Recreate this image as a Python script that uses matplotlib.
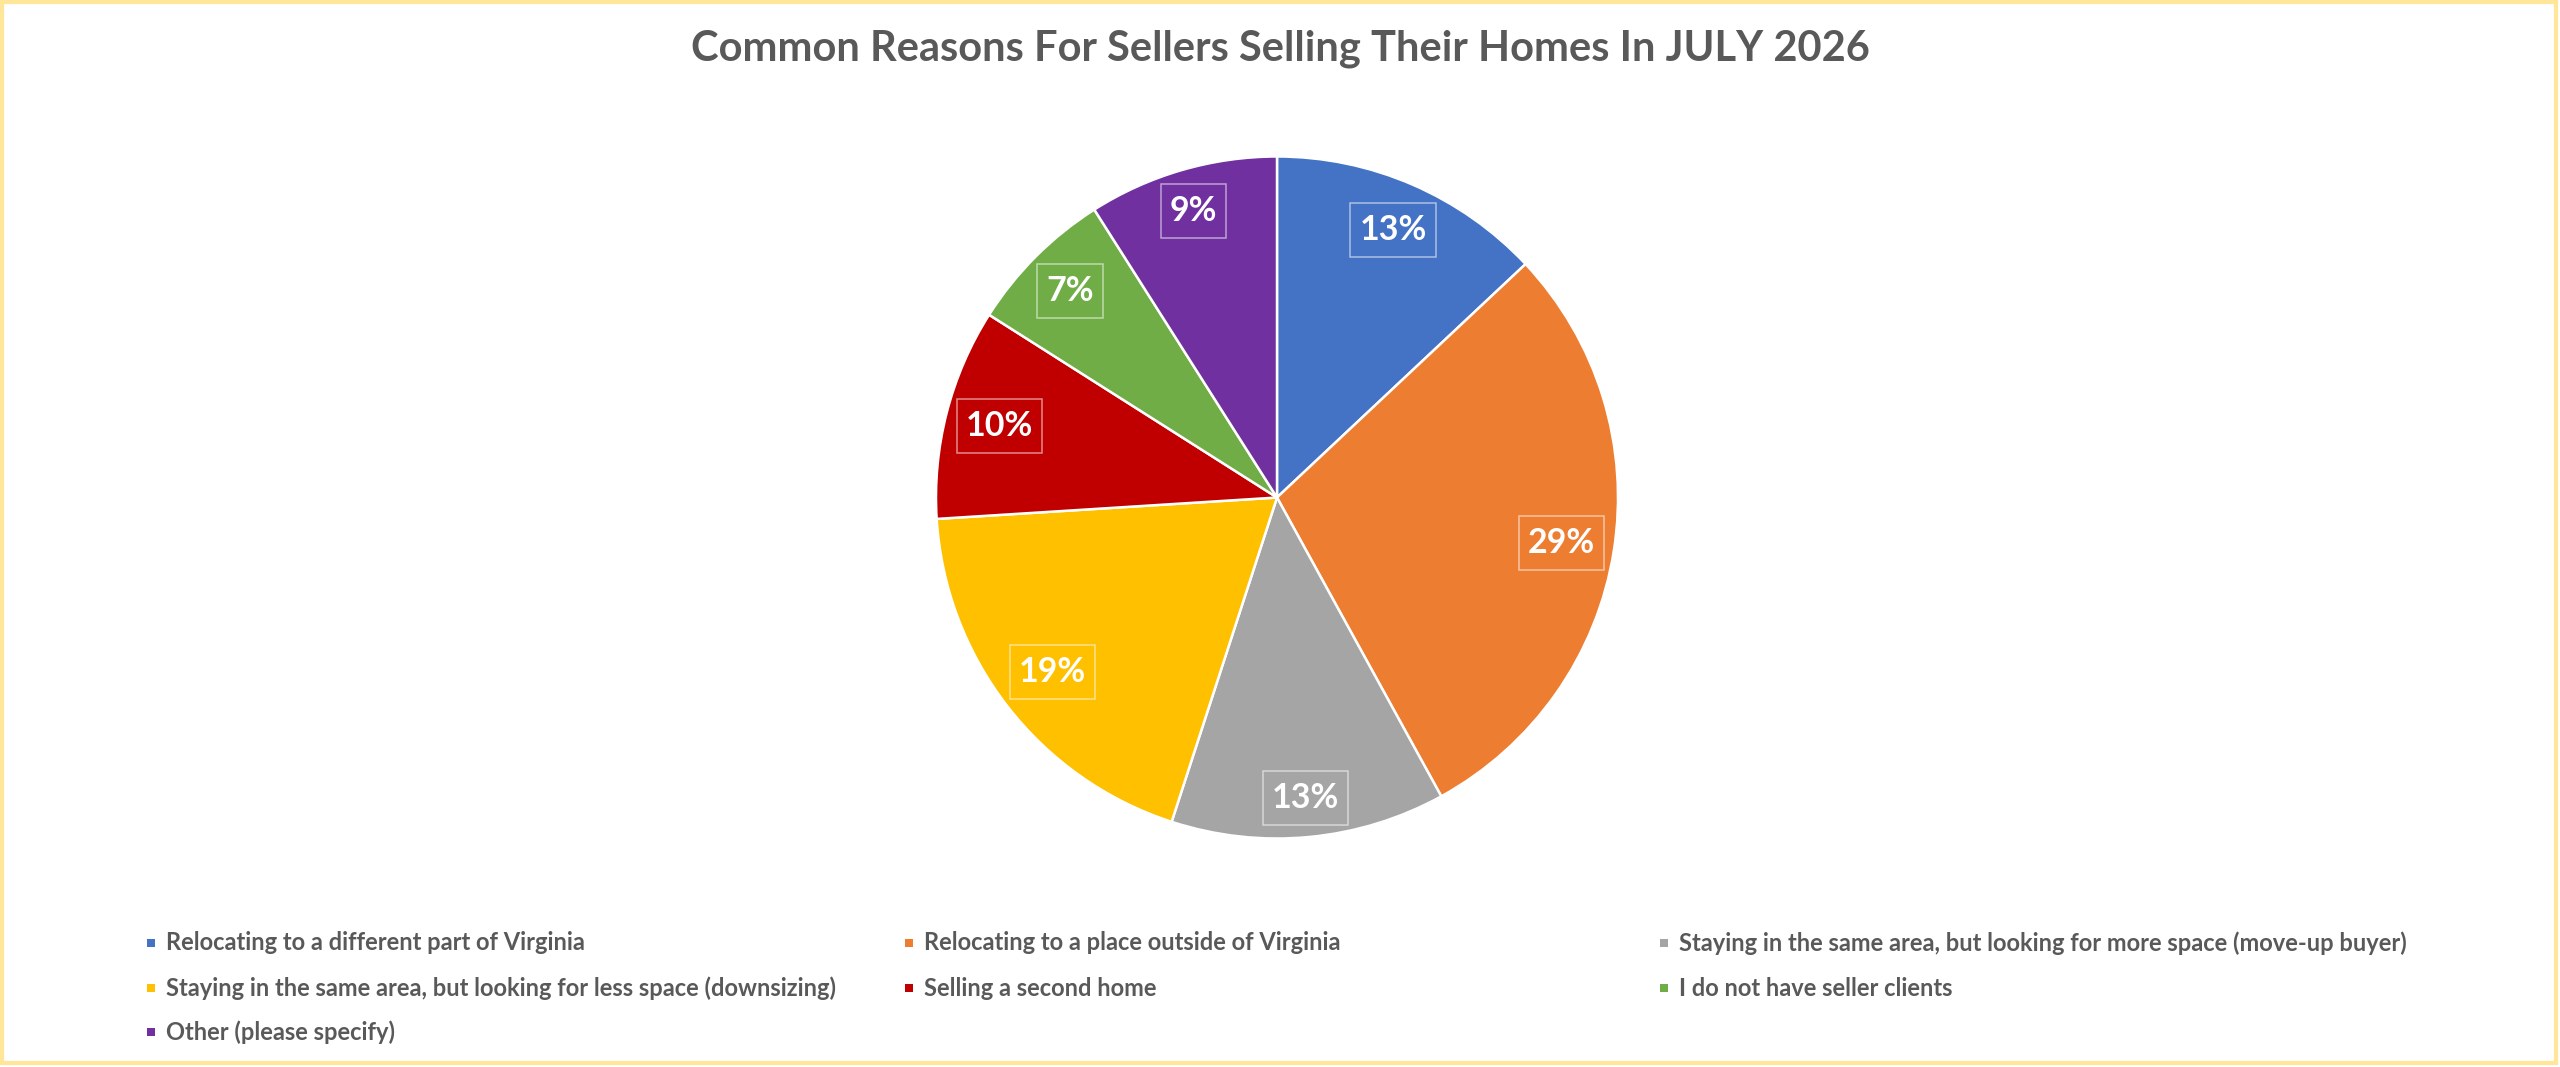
import numpy as np
import matplotlib
matplotlib.use("Agg")
import matplotlib.pyplot as plt
from matplotlib.patches import Rectangle

# ---- data ----
title = "Common Reasons For Sellers Selling Their Homes In JULY 2026"
categories = [
    "Relocating to a different part of Virginia",
    "Relocating to a place outside of Virginia",
    "Staying in the same area, but looking for more space (move-up buyer)",
    "Staying in the same area, but looking for less space (downsizing)",
    "Selling a second home",
    "I do not have seller clients",
    "Other (please specify)",
]
values = [13, 29, 13, 19, 10, 7, 9]
colors = ["#4472C4", "#ED7D31", "#A5A5A5", "#FFC000", "#C00000", "#70AD47", "#7030A0"]

plt.rcParams['font.family'] = ['Lato', 'DejaVu Sans']

W, H = 2560, 1067
fig = plt.figure(figsize=(W / 100, H / 100), dpi=100)
fig.patch.set_facecolor("white")

# frame
fig.add_artist(Rectangle((2 / W, 4 / H), (W - 6) / W, (H - 6) / H, transform=fig.transFigure,
                         fill=False, edgecolor="#FFE699", linewidth=3.0))

# pie axes
cx, cy, R = 1277, 497.5, 341
ax = fig.add_axes([(cx - R) / W, (H - cy - R) / H, 2 * R / W, 2 * R / H])
wedges, _ = ax.pie(values, colors=colors, startangle=90, counterclock=False, radius=1.0,
                   wedgeprops=dict(edgecolor="white", linewidth=1.8))
ax.set_xlim(-1, 1)
ax.set_ylim(-1, 1)
ax.set_aspect("equal")
ax.axis("off")

total = sum(values)
texts = []
for w, v in zip(wedges, values):
    ang = np.deg2rad((w.theta1 + w.theta2) / 2)
    t = ax.text(0.8 * np.cos(ang), 0.8 * np.sin(ang), f"{round(100 * v / total)}%",
                ha="center", va="center", color="white", fontsize=24.5, fontweight="bold")
    texts.append((t, ang))

fig.canvas.draw()
r = fig.canvas.get_renderer()
for t, ang in texts:
    bb = t.get_window_extent(r)
    bw = (bb.width + 18) / R      # box size in data units (R px == 1 unit)
    bh = (bb.height + 22) / R
    hw, hh = bw / 2, bh / 2
    c, s = np.cos(ang), np.sin(ang)
    # inside end: farthest box corner near the rim
    best = 0.3
    for d in np.linspace(0.3, 1.0, 701):
        px, py = d * c, d * s
        if np.hypot(abs(px) + hw, abs(py) + hh) <= 0.982:
            best = d
    px, py = best * c, best * s
    t.set_position((px, py))
    ax.add_patch(Rectangle((px - hw, py - hh), bw, bh, facecolor="none",
                           edgecolor=(1, 1, 1, 0.55), linewidth=1.1, zorder=3))

fig.text(0.5, 1 - 49 / H, title, ha="center", va="center", fontsize=30,
         fontweight="bold", color="#595959")

# legend (3 columns, Excel-like)
col_x = [147, 905, 1660]
row_y = [943, 988, 1032]
sq = 8
for i, (lab, col) in enumerate(zip(categories, colors)):
    x = col_x[i % 3]
    y = row_y[i // 3]
    fig.add_artist(Rectangle((x / W, (H - y - sq / 2) / H), sq / W, sq / H,
                             transform=fig.transFigure, facecolor=col, edgecolor="none"))
    fig.text((x + 19) / W, 1 - y / H, lab, ha="left", va="center", fontsize=17,
             fontweight="bold", color="#595959")

fig.savefig("out.png", dpi=100)
